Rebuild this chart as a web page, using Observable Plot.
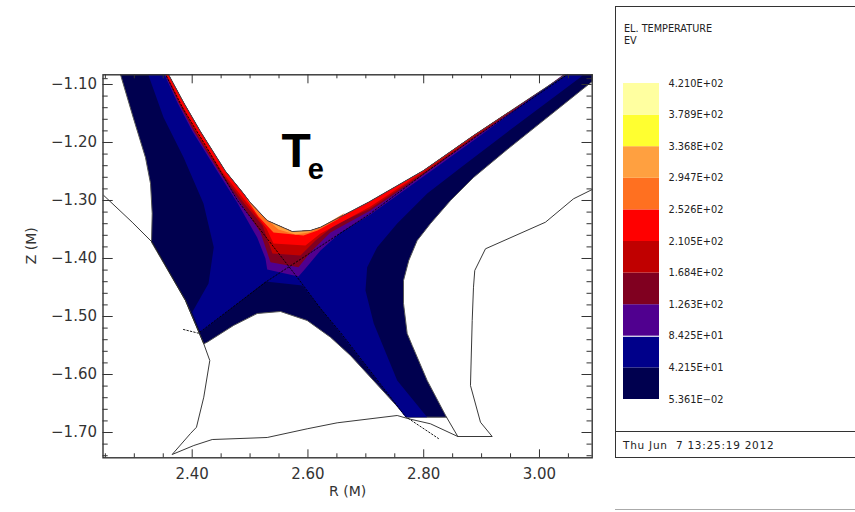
<!DOCTYPE html>
<html><head><meta charset="utf-8">
<script src="https://cdn.jsdelivr.net/npm/d3@7"></script>
<script src="https://cdn.jsdelivr.net/npm/@observablehq/plot@0.6"></script>
<style>
html,body{margin:0;padding:0;background:#fff;overflow:hidden}
#root{position:relative;width:855px;height:512px;overflow:hidden;font-family:"DejaVu Sans",sans-serif}
#root svg{position:absolute;background:transparent}
.panel{position:absolute;left:615px;width:260px;border:1.4px solid #333;box-sizing:border-box}
.lab{position:absolute;white-space:pre;color:#222;font-size:9px;line-height:12px}
</style></head><body><div id="root"></div>
<script>
// Axis values
const rDomain=[2.2459,3.0911], zDomain=[-1.7436,-1.0833];
const rMajor=[2.4,2.6,2.8,3.0];
const rMinor=[2.25,2.3,2.35,2.45,2.5,2.55,2.65,2.7,2.75,2.85,2.9,2.95,3.05];
const zMajor=[-1.1,-1.2,-1.3,-1.4,-1.5,-1.6,-1.7];
const zMinor=[-1.12,-1.14,-1.16,-1.18,-1.22,-1.24,-1.26,-1.28,-1.32,-1.34,-1.36,-1.38,-1.42,-1.44,-1.46,-1.48,-1.52,-1.54,-1.56,-1.58,-1.62,-1.64,-1.66,-1.68,-1.72,-1.74,-1.09];

// Contour levels
const levelLabels=["5.361E-02","4.215E+01","8.425E+01","1.263E+02","1.684E+02","2.105E+02","2.526E+02","2.947E+02","3.368E+02","3.789E+02","4.210E+02"];
const levelColors=["#00004f","#00008a","#50008f","#800020","#c00000","#ff0000","#ff7020","#ffa040","#ffff30","#ffffa0"];

// Top (plasma-side) edge of the grid, left to right [R,Z]
const upperEdge=[[2.3591,-1.0828],[2.3855,-1.1316],[2.4143,-1.1811],[2.4575,-1.2495],[2.4886,-1.288],[2.5007,-1.304],[2.5296,-1.3345],[2.5728,-1.3535],[2.6044,-1.3517],[2.6217,-1.346],[2.7046,-1.3029],[2.7996,-1.2483],[2.886,-1.188],[3.045,-1.0828]];
const upperBack=upperEdge.slice().reverse();

// Outer outline of grid
const gridBelow=[[2.2761,-1.0828],[2.2986,-1.1586],[2.3193,-1.2259],[2.328,-1.2707],[2.3309,-1.3224],[2.3297,-1.3719],[2.3884,-1.4724],[2.3971,-1.4931],[2.42,-1.5471],[2.4259,-1.5443],[2.4714,-1.5155],[2.5123,-1.4948],[2.5526,-1.4914],[2.5987,-1.5069],[2.6389,-1.5357],[2.6735,-1.5673],[2.7714,-1.6736],[2.8394,-1.6736],[2.806,-1.6104],[2.7801,-1.55],[2.7714,-1.5293],[2.7651,-1.4776],[2.7651,-1.4379],[2.7742,-1.4035],[2.7887,-1.369],[2.8117,-1.3397],[2.8463,-1.3],[2.886,-1.2604],[2.9442,-1.2121],[3.0911,-1.0949],[3.0911,-1.0828]];
// Lower boundary of each filled contour level
const blueBelow=[[2.324,-1.0828],[2.3504,-1.1564],[2.385,-1.2254],[2.4195,-1.3052],[2.4373,-1.3805],[2.4282,-1.4431],[2.4,-1.4926],[2.4143,-1.5271],[2.5266,-1.4397],[2.5906,-1.4466],[2.6246,-1.4897],[2.6562,-1.5293],[2.7685,-1.6736],[2.806,-1.6736],[2.7542,-1.6104],[2.7137,-1.5121],[2.6994,-1.4552],[2.7023,-1.415],[2.7196,-1.3805],[2.7542,-1.3397],[2.806,-1.288],[2.8687,-1.2397],[2.9442,-1.1823],[3.0709,-1.0874],[3.076,-1.0828]];
const purpleBelow=[[2.3521,-1.0828],[2.3746,-1.1316],[2.4005,-1.1811],[2.4437,-1.25],[2.4777,-1.3035],[2.5123,-1.3638],[2.5266,-1.4],[2.5296,-1.419],[2.5837,-1.431],[2.5957,-1.4173],[2.6217,-1.3862],[2.6562,-1.3552],[2.708,-1.3242],[2.7996,-1.2586],[2.886,-1.1966],[3.0415,-1.0828]];
const maroonBelow=[[2.3539,-1.0828],[2.3763,-1.1316],[2.4031,-1.1811],[2.4463,-1.25],[2.4834,-1.3035],[2.518,-1.3552],[2.5353,-1.4064],[2.5837,-1.415],[2.6044,-1.3892],[2.6389,-1.3552],[2.708,-1.3173],[2.7996,-1.2552],[2.886,-1.1931],[3.0432,-1.0828]];
const darkRedBelow=[[2.3547,-1.0828],[2.3781,-1.1316],[2.4057,-1.1811],[2.4489,-1.25],[2.4886,-1.3035],[2.5215,-1.3431],[2.5387,-1.3914],[2.5871,-1.3948],[2.613,-1.369],[2.6476,-1.3414],[2.708,-1.3138],[2.7996,-1.2526],[2.886,-1.1905],[3.0441,-1.0828]];
const redBelow=[[2.3556,-1.0828],[2.3798,-1.1316],[2.4083,-1.1811],[2.4515,-1.25],[2.4938,-1.3035],[2.5284,-1.3483],[2.5405,-1.3742],[2.5957,-1.3776],[2.6217,-1.3569],[2.708,-1.3104],[2.7996,-1.25],[2.886,-1.1892],[3.045,-1.0828]];
const orangePatch=[[2.4921,-1.2948],[2.5146,-1.3276],[2.5405,-1.3552],[2.5923,-1.3604],[2.6165,-1.3517],[2.651,-1.3328],[2.6649,-1.3207],[2.6217,-1.346],[2.6044,-1.3517],[2.5728,-1.3535],[2.5296,-1.3345]];
const lightOrangePatch=[[2.5215,-1.3259],[2.5491,-1.35],[2.5785,-1.3586],[2.6009,-1.3552],[2.6251,-1.3448],[2.6217,-1.346],[2.6044,-1.3517],[2.5728,-1.3535],[2.5296,-1.3345]];

// Separatrix legs (dotted)
const sepA=[[2.385,-1.5224],[2.4109,-1.5288],[2.5284,-1.4397],[2.708,-1.3224],[2.7996,-1.2543],[2.886,-1.1931],[3.0484,-1.0828]];
const sepB=[[2.3556,-1.0862],[2.385,-1.1431],[2.423,-1.2052],[2.4783,-1.3],[2.5814,-1.4323],[2.6217,-1.4862],[2.6562,-1.5276],[2.7685,-1.6724],[2.8255,-1.7104]];

// Vessel wall
const wall=[[2.2473,-1.2914],[2.2963,-1.3374],[2.3309,-1.3719],[2.3884,-1.4724],[2.42,-1.5471],[2.4304,-1.5759],[2.42,-1.6391],[2.4074,-1.6909],[2.3971,-1.7017],[2.3654,-1.7379],[2.4028,-1.7224],[2.4346,-1.7121],[2.5296,-1.7086],[2.5987,-1.6936],[2.6505,-1.6833],[2.7542,-1.6707],[2.7742,-1.6764],[2.8117,-1.685],[2.8589,-1.7069],[2.9183,-1.7069],[2.8981,-1.6823],[2.8808,-1.619],[2.8838,-1.5069],[2.886,-1.4495],[2.8882,-1.4207],[2.9067,-1.3833],[3.0104,-1.3374],[3.0588,-1.2971],[3.0911,-1.2811]];
const wallLink=[[2.8394,-1.6736],[2.8589,-1.7069]];

const W=855,H=512,mL=102.5,mT=74.3,mB=54.7,mR=263.3,plotH=H-mT-mB;
const px=d=>d[0], pz=d=>d[1];
const fillPoly=(pts,c)=>Plot.line(pts,{x:px,y:pz,fill:c,stroke:"none",curve:"linear"});
const num=d=>d3.format(".2f")(d).replace("-","\u2212");
const tickFont={fontFamily:"'DejaVu Sans',sans-serif",fontSize:15,fill:"#333"};

const main=Plot.plot({
  width:W,height:H,marginLeft:mL,marginTop:mT,marginBottom:mB,marginRight:mR,
  style:{background:"transparent",overflow:"visible"},
  x:{domain:rDomain,axis:null},y:{domain:zDomain,axis:null},
  marks:[
    fillPoly(gridBelow.concat(upperBack),levelColors[0]),
    Plot.line(gridBelow,{x:px,y:pz,stroke:"#555",strokeWidth:1}),
    fillPoly(blueBelow.concat(upperBack),levelColors[1]),
    fillPoly(purpleBelow.concat(upperBack),levelColors[2]),
    fillPoly(maroonBelow.concat(upperBack),levelColors[3]),
    fillPoly(darkRedBelow.concat(upperBack),levelColors[4]),
    fillPoly(redBelow.concat(upperBack),levelColors[5]),
    fillPoly(orangePatch,levelColors[6]),
    fillPoly(lightOrangePatch,levelColors[7]),
    Plot.line(upperEdge,{x:px,y:pz,stroke:"#444",strokeWidth:1}),
    Plot.line(sepA,{x:px,y:pz,stroke:"#000",strokeWidth:0.9,strokeDasharray:"1.5,2"}),
    Plot.line(sepB,{x:px,y:pz,stroke:"#000",strokeWidth:0.9,strokeDasharray:"1.5,2"}),
    Plot.line(wall,{x:px,y:pz,stroke:"#222",strokeWidth:0.9}),
    Plot.line(wallLink,{x:px,y:pz,stroke:"#222",strokeWidth:0.9}),
    Plot.frame({stroke:"#333",strokeWidth:1.4}),
    Plot.ruleX(rMajor,{x:d=>d,insetTop:plotH-8,stroke:"#333"}),
    Plot.ruleX(rMinor,{x:d=>d,insetTop:plotH-4,stroke:"#333"}),
    Plot.ruleX(rMajor,{x:d=>d,insetBottom:plotH-9,stroke:"#333"}),
    Plot.ruleX(rMinor,{x:d=>d,insetBottom:plotH-4,stroke:"#333"}),
    Plot.ruleY(zMajor,{y:d=>d,insetRight:489-10,stroke:"#333"}),
    Plot.ruleY(zMinor,{y:d=>d,insetRight:489-5,stroke:"#333"}),
    Plot.ruleY(zMajor,{y:d=>d,insetLeft:489-10,stroke:"#333"}),
    Plot.ruleY(zMinor,{y:d=>d,insetLeft:489-5,stroke:"#333"}),
    Plot.axisX(rMajor,{anchor:"bottom",tickSize:0,tickPadding:11,tickFormat:num,label:null,...tickFont}),
    Plot.axisY(zMajor,{anchor:"left",tickSize:0,tickPadding:6,tickFormat:num,label:null,...tickFont}),
    Plot.text(["R (M)"],{frameAnchor:"bottom",dy:38,dx:0,...tickFont,fontSize:14}),
    Plot.text(["Z (M)"],{frameAnchor:"left",dx:-71,dy:-2,rotate:-90,...tickFont,fontSize:14}),
    Plot.text(["Te"],{x:[2.5543],y:[-1.2431],textAnchor:"start",lineAnchor:"bottom",className:"te-label",fontFamily:"'Liberation Sans',sans-serif",fontWeight:"bold",fontSize:48,fill:"#000"})
  ]
});
main.style.left="0";main.style.top="0";
// subscript "e" as a tspan of the same text
const teNode=main.querySelector(".te-label text");
if(teNode){
  teNode.textContent="T";
  const sub=document.createElementNS("http://www.w3.org/2000/svg","tspan");
  sub.setAttribute("font-size","29");sub.setAttribute("dy","12");sub.setAttribute("dx","-3");
  sub.textContent="e";teNode.append(sub);
}

const levelsIdx=d3.range(levelColors.length);
const legend=Plot.plot({
  width:110,height:332,marginLeft:0,marginRight:0,marginTop:8,marginBottom:8,
  style:{background:"transparent",overflow:"visible"},
  x:{domain:[0,110],range:[0,110],axis:null},
  y:{domain:[0,10],axis:null},
  marks:[
    Plot.rectY(levelsIdx,{x1:0,x2:36,y1:d=>d,y2:d=>d+1,fill:d=>levelColors[d]}),
    Plot.ruleY([2],{x1:0,x2:36,stroke:"#fff",strokeWidth:1}),
    Plot.text(levelLabels,{x:45,y:(d,i)=>i,text:d=>d.replace("-","\u2212"),textAnchor:"start",fontFamily:"'DejaVu Sans',sans-serif",fontSize:9.8,fill:"#222"})
  ]
});
legend.style.left="623.3px";legend.style.top="75.3px";

const root=document.getElementById("root");
root.append(main,legend);
const add=(cls,css,text)=>{const e=document.createElement("div");e.className=cls;e.style.cssText=css;if(text)e.textContent=text;root.append(e)};
add("panel","top:6px;height:451.5px");
add("panel","top:431px;height:1.4px;border-width:1.4px 0 0 0");
add("panel","top:509px;height:10px;border-color:#aaa;border-width:1.4px 0 0 0");
add("lab","left:624px;top:23px;font-size:9.7px","EL. TEMPERATURE");
add("lab","left:624px;top:35px;font-size:9.7px","EV");
add("lab","left:623px;top:438.5px;font-size:10.5px;letter-spacing:0.75px","Thu Jun  7 13:25:19 2012");
</script></body></html>
